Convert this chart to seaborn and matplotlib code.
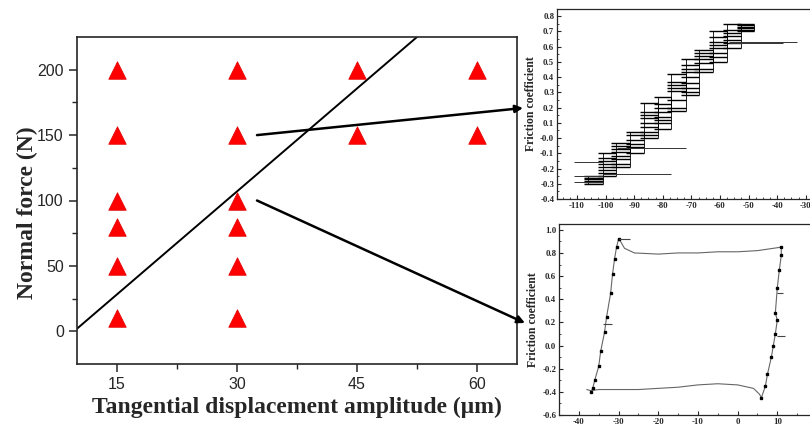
import numpy as np
import pandas as pd
import matplotlib
matplotlib.use("Agg")
import matplotlib.pyplot as plt
from matplotlib.ticker import MultipleLocator, FixedLocator
import seaborn as sns

# ---------------- data ----------------
amplitude = [15, 15, 15, 15, 15, 15, 30, 30, 30, 30, 30, 30, 45, 45, 60, 60]
normal_force = [200, 150, 100, 80, 50, 10, 200, 150, 100, 80, 50, 10, 200, 150, 200, 150]
x_ticks = [15, 30, 45, 60]
y_ticks = [0, 50, 100, 150, 200]
boundary_x = [10, 52.5]
boundary_y = [2, 225]

# inset 1: stick-slip staircase (displacement blocks and friction levels)
block_x0 = [-106, -101, -96.5, -91.5, -86.5, -81.5, -77, -72, -67.5, -62.5, -57.5, -52.5]
block_x1 = [-101, -96.5, -91.5, -86.5, -81.5, -77, -72, -67.5, -62.5, -57.5, -52.5, -48]
block_levels = [
    [-0.30, -0.29, -0.28, -0.27, -0.26, -0.25],
    [-0.25, -0.23, -0.21, -0.19, -0.17, -0.15, -0.13, -0.10],
    [-0.19, -0.17, -0.14, -0.12, -0.09, -0.07, -0.05, -0.03],
    [-0.10, -0.06, -0.04, -0.01, 0.02, 0.04],
    [0.00, 0.02, 0.04, 0.07, 0.10, 0.13, 0.15, 0.17, 0.23],
    [0.06, 0.10, 0.12, 0.14, 0.17, 0.20, 0.22, 0.27],
    [0.18, 0.20, 0.25, 0.31, 0.33, 0.35, 0.37, 0.42],
    [0.28, 0.30, 0.33, 0.36, 0.40, 0.43, 0.45, 0.48, 0.52],
    [0.43, 0.45, 0.49, 0.52, 0.54, 0.56, 0.58],
    [0.50, 0.53, 0.56, 0.59, 0.61, 0.63, 0.66, 0.70],
    [0.59, 0.62, 0.64, 0.67, 0.69, 0.71, 0.75],
    [0.70, 0.71, 0.72, 0.73, 0.74, 0.75],
]
long_y = [-0.29, -0.25, -0.16, -0.235, -0.065, 0.63, 0.62]
long_x0 = [-111, -111, -111, -101, -96, -57, -57]
long_x1 = [-101, -101, -101, -77, -72, -33, -38]

# inset 2: gross-slip loop
loop_x = [-37, -36.5, -36, -35, -34.5, -33.5, -33, -32, -31.5, -31, -30.5, -30,
          -29.5, -28.5, -26, -20, -15, -10, -5, 0, 5, 9, 11,
          11, 10.5, 10, 9.5, 10, 9.5, 9, 8.5, 7.5, 7, 6,
          5.5, 4, 0, -5, -10, -15, -20, -25, -30, -35, -37, -38]
loop_y = [-0.40, -0.37, -0.30, -0.18, -0.05, 0.12, 0.25, 0.45, 0.62, 0.75, 0.85, 0.92,
          0.90, 0.84, 0.80, 0.79, 0.80, 0.80, 0.81, 0.81, 0.82, 0.84, 0.85,
          0.78, 0.65, 0.50, 0.28, 0.22, 0.10, 0.00, -0.10, -0.25, -0.35, -0.45,
          -0.42, -0.37, -0.34, -0.33, -0.34, -0.36, -0.37, -0.38, -0.38, -0.38, -0.39, -0.38]
flag_y = [0.92, 0.19, 0.45, 0.08]
flag_x0 = [-30, -33.9, 10, 10]
flag_x1 = [-27, -31.6, 11.5, 12]

# ---------------- style ----------------
sns.set_style("ticks")
plt.rcParams["font.family"] = ["Liberation Sans", "DejaVu Sans"]

W, H = 810, 428
fig = plt.figure(figsize=(W / 100, H / 100), dpi=100)

def box(l, t, r, b):
    return [l / W, 1 - b / H, (r - l) / W, (b - t) / H]

serif_bold = dict(family=["Liberation Serif", "DejaVu Serif"], weight="bold")

# ---------------- main axes ----------------
ax = fig.add_axes(box(77, 37, 517, 364))
df = pd.DataFrame({"amp": amplitude, "force": normal_force})
sns.scatterplot(data=df, x="amp", y="force", marker="^", s=160, color="#ff0000",
                edgecolor="#e00000", linewidth=0.5, ax=ax, zorder=3)
sns.lineplot(x=boundary_x, y=boundary_y, color="black", lw=1.4, ax=ax, sort=False,
             estimator=None, zorder=2)
ax.set_xlim(10, 65)
ax.set_ylim(-25, 225)
ax.xaxis.set_major_locator(FixedLocator(x_ticks))
ax.xaxis.set_minor_locator(FixedLocator([22.5, 37.5, 52.5]))
ax.yaxis.set_major_locator(FixedLocator(y_ticks))
ax.yaxis.set_minor_locator(FixedLocator([25, 75, 125, 175]))
ax.tick_params(which="major", direction="out", length=6, width=1.1, labelsize=11.5)
ax.tick_params(which="minor", direction="out", length=3.5, width=1.0)
for s in ax.spines.values():
    s.set_linewidth(1.2)
ax.set_xlabel("Tangential displacement amplitude (μm)", fontsize=17, labelpad=3, **serif_bold)
ax.set_ylabel("Normal force (N)", fontsize=17, **serif_bold)
ax.yaxis.set_label_coords(-0.088, 0.462)

# ---------------- inset 1 ----------------
ax1 = fig.add_axes(box(557, 9, 820, 199))
for x0, x1, levels in zip(block_x0, block_x1, block_levels):
    ax1.hlines(levels, x0 - 1.5, x1, color="black", lw=1.0)
    ax1.vlines([x0, x1], min(levels), max(levels), color="black", lw=0.6)
ax1.hlines(long_y, long_x0, long_x1, color="#333333", lw=0.7)
ax1.set_xlim(-117, -25)
ax1.set_ylim(-0.4, 0.846)
ax1.set_xticks(np.arange(-110, -20, 10))
ax1.set_xticklabels([str(v) for v in range(-110, -20, 10)])
ax1.xaxis.set_minor_locator(MultipleLocator(2.5))
ax1.set_yticks(np.round(np.arange(-0.4, 0.81, 0.1), 1))
ax1.set_yticklabels([f"{v:.1f}" for v in np.round(np.arange(-0.4, 0.81, 0.1), 1)])
ax1.yaxis.set_minor_locator(MultipleLocator(0.05))
ax1.tick_params(which="major", direction="in", length=3, width=0.8, labelsize=6.3, pad=2)
ax1.tick_params(which="minor", direction="in", length=1.5, width=0.6)
for lab in ax1.get_xticklabels() + ax1.get_yticklabels():
    lab.set_fontfamily(["Liberation Serif", "DejaVu Serif"])
    lab.set_fontweight("bold")
for s in ax1.spines.values():
    s.set_linewidth(0.9)
ax1.set_ylabel("Friction coefficient", fontsize=8.5, labelpad=2, **serif_bold)

# ---------------- inset 2 ----------------
ax2 = fig.add_axes(box(559, 224, 817, 415))
sns.lineplot(x=loop_x, y=loop_y, sort=False, estimator=None, color="#666666",
             lw=0.8, ax=ax2)
left_idx = list(range(0, 12))
right_idx = list(range(22, 34))
ax2.plot([loop_x[i] for i in left_idx], [loop_y[i] for i in left_idx],
         ls="none", marker="s", ms=1.6, color="black")
ax2.plot([loop_x[i] for i in right_idx], [loop_y[i] for i in right_idx],
         ls="none", marker="s", ms=1.6, color="black")
ax2.hlines(flag_y, flag_x0, flag_x1, color="#444444", lw=0.8)
ax2.set_xlim(-45, 20)
ax2.set_ylim(-0.6, 1.05)
ax2.set_xticks([-40, -30, -20, -10, 0, 10])
ax2.set_xticklabels(["-40", "-30", "-20", "-10", "0", "10"])
ax2.xaxis.set_minor_locator(MultipleLocator(5))
ax2.set_yticks([-0.6, -0.4, -0.2, 0.0, 0.2, 0.4, 0.6, 0.8, 1.0])
ax2.set_yticklabels(["-0.6", "-0.4", "-0.2", "0.0", "0.2", "0.4", "0.6", "0.8", "1.0"])
ax2.yaxis.set_minor_locator(MultipleLocator(0.1))
ax2.tick_params(which="major", direction="in", length=3, width=0.8, labelsize=6.3, pad=2)
ax2.tick_params(which="minor", direction="in", length=1.5, width=0.6)
for lab in ax2.get_xticklabels() + ax2.get_yticklabels():
    lab.set_fontfamily(["Liberation Serif", "DejaVu Serif"])
    lab.set_fontweight("bold")
for s in ax2.spines.values():
    s.set_linewidth(0.9)
ax2.set_ylabel("Friction coefficient", fontsize=8.5, labelpad=2, **serif_bold)

# ---------------- arrows ----------------
arrow_kw = dict(arrowstyle="-|>", lw=1.8, color="black", mutation_scale=11,
                shrinkA=0, shrinkB=0)
ax.annotate("", xy=(523 / W, 1 - 108 / H), xycoords="figure fraction",
            xytext=(32.5, 150), textcoords="data", arrowprops=arrow_kw,
            annotation_clip=False, zorder=10)
ax.annotate("", xy=(525 / W, 1 - 323 / H), xycoords="figure fraction",
            xytext=(32.5, 100), textcoords="data", arrowprops=arrow_kw,
            annotation_clip=False, zorder=10)

fig.savefig("out.png", dpi=100)
